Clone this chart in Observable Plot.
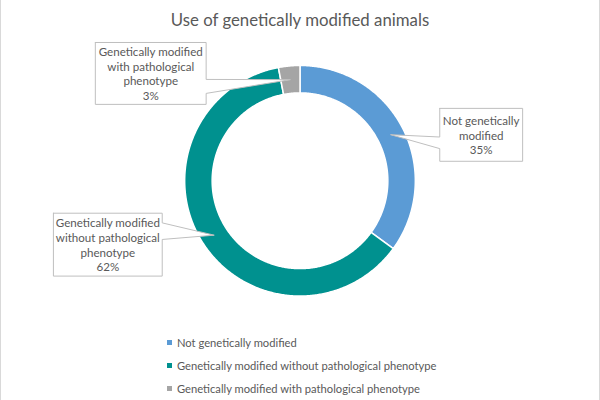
<!DOCTYPE html>
<html>
<head>
<meta charset="utf-8">
<script src="https://cdn.jsdelivr.net/npm/d3@7"></script>
<script src="https://cdn.jsdelivr.net/npm/@observablehq/plot@0.6"></script>
<style>
  html, body { margin: 0; padding: 0; background: #fff; }
  #wrap { position: relative; width: 598px; height: 400px; border-left: 1px solid #D9D9D9; border-right: 1px solid #D9D9D9; font-family: Lato, sans-serif; color: #595959; overflow: hidden; }
  #title { position: absolute; left: 0; top: 8px; width: 598px; text-align: center; font-size: 16.8px; line-height: 24px; }
  #chart { position: absolute; left: -1px; top: 36px; }
  #legend { position: absolute; left: 166px; top: 331px; font-size: 11.2px; }
  .item { height: 23.2px; line-height: 18px; display: flex; align-items: center; }
  .sw { width: 5px; height: 5px; margin-right: 5px; }
</style>
</head>
<body>
<div id="wrap">
  <div id="title">Use of genetically modified animals</div>
  <div id="chart"></div>
  <div id="legend"></div>
</div>
<script>
// ---- data ----
const categories = [
  "Not genetically modified",
  "Genetically modified without pathological phenotype",
  "Genetically modified with pathological phenotype"
];
const shares = [35, 62, 3];
const labelLines = [
  ["Not genetically", "modified"],
  ["Genetically modified", "without pathological", "phenotype"],
  ["Genetically modified", "with pathological", "phenotype"]
];
const colors = ["#5B9BD5", "#00918F", "#A5A5A5"];

// ---- layout (chart units = pixels, origin at donut centre, y up) ----
const R_OUT = 115.5, R_IN = 88;
const boxes = [
  {x1: 140, x2: 223, y1: 19.5, y2: 72.5, side: "left", b1: 43.8, b2: 32.2},
  {x1: -247, x2: -138, y1: -95.5, y2: -32.5, side: "right", b1: -42.2, b2: -58.8},
  {x1: -205, x2: -94, y1: 76.5, y2: 138.5, side: "right", b1: 101.5, b2: 87.5}
];

const rows = categories.map((c, i) => ({category: c, value: shares[i], i}));
const arcs = d3.pie().sort(null).value(d => d.value)(rows);

const ring = [];
arcs.forEach(a => {
  const n = Math.max(4, Math.ceil((a.endAngle - a.startAngle) / 0.01));
  const pts = [];
  for (let k = 0; k <= n; k++) {
    const t = a.startAngle + (a.endAngle - a.startAngle) * k / n;
    pts.push({x: R_OUT * Math.sin(t), y: R_OUT * Math.cos(t)});
  }
  for (let k = n; k >= 0; k--) {
    const t = a.startAngle + (a.endAngle - a.startAngle) * k / n;
    pts.push({x: R_IN * Math.sin(t), y: R_IN * Math.cos(t)});
  }
  pts.push(pts[0]);
  pts.forEach(p => ring.push({...p, category: a.data.category}));
});

const callouts = [];
const labels = [];
arcs.forEach((a, i) => {
  const b = boxes[i];
  const mid = (a.startAngle + a.endAngle) / 2;
  const rm = (R_OUT + R_IN) / 2;
  const tip = {x: rm * Math.sin(mid), y: rm * Math.cos(mid)};
  let pts;
  if (b.side === "right") {
    pts = [[b.x1, b.y2], [b.x2, b.y2], [b.x2, b.b1], [tip.x, tip.y], [b.x2, b.b2], [b.x2, b.y1], [b.x1, b.y1], [b.x1, b.y2]];
  } else {
    pts = [[b.x1, b.y2], [b.x2, b.y2], [b.x2, b.y1], [b.x1, b.y1], [b.x1, b.b2], [tip.x, tip.y], [b.x1, b.b1], [b.x1, b.y2]];
  }
  pts.forEach(([x, y]) => callouts.push({x, y, id: i}));
  labels.push({
    x: (b.x1 + b.x2) / 2,
    y: (b.y1 + b.y2) / 2,
    text: labelLines[i].join("\n") + "\n" + shares[i] + "%"
  });
});

const plot = Plot.plot({
  width: 600,
  height: 290,
  margin: 0,
  x: {domain: [-300, 300], axis: null},
  y: {domain: [-145.5, 144.5], axis: null},
  color: {domain: categories, range: colors},
  style: {fontFamily: "Lato, sans-serif", background: "transparent", overflow: "visible"},
  marks: [
    Plot.line(ring, {x: "x", y: "y", z: "category", fill: "category", stroke: "white", strokeWidth: 1.5, curve: "linear"}),
    Plot.line(callouts, {x: "x", y: "y", z: "id", fill: "white", stroke: "#BFBFBF", strokeWidth: 1, curve: "linear"}),
    Plot.text(labels, {x: "x", y: "y", text: "text", fontSize: 11.6, lineHeight: 1.27, fill: "#595959", textAnchor: "middle", lineAnchor: "middle"})
  ]
});
document.getElementById("chart").appendChild(plot);

const legend = document.getElementById("legend");
categories.forEach((c, i) => {
  const item = document.createElement("div");
  item.className = "item";
  const sw = document.createElement("span");
  sw.className = "sw";
  sw.style.background = colors[i];
  const tx = document.createElement("span");
  tx.textContent = c;
  item.appendChild(sw);
  item.appendChild(tx);
  legend.appendChild(item);
});
</script>
</body>
</html>
